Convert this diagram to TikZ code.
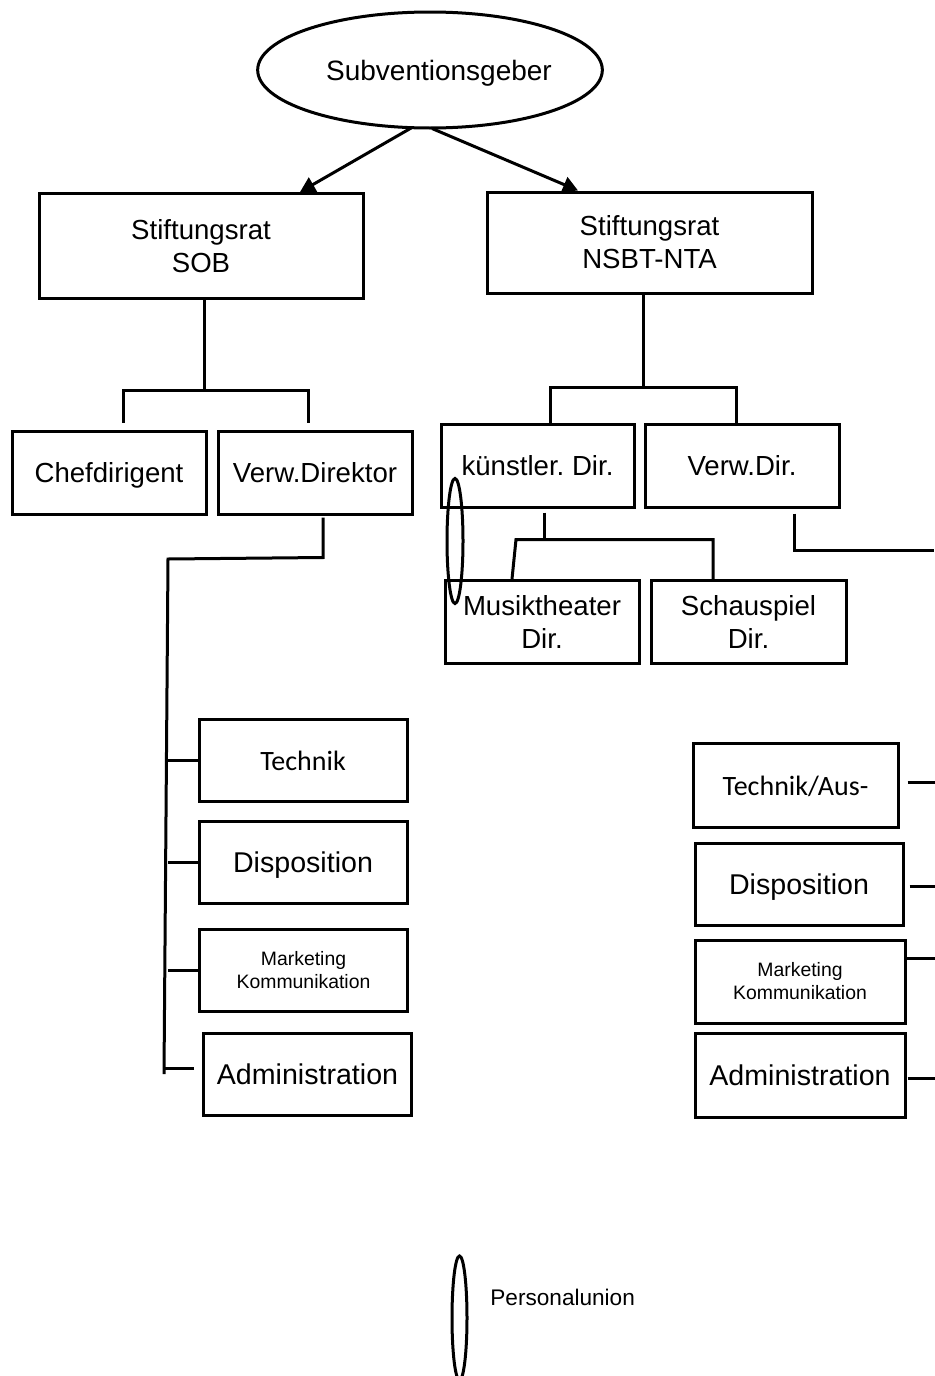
\documentclass[tikz,border=0pt]{standalone}
\usepackage{fontspec}
\setmainfont{Liberation Sans}
\newfontfamily\calibrifont{Carlito}
\usetikzlibrary{shapes.geometric}
\usetikzlibrary{arrows.meta}
\usetikzlibrary{calc}
\frenchspacing

\begin{document}
\begin{tikzpicture}[x=0.5pt,y=-0.5pt,
  box/.style={rectangle,draw=black,line width=1.5pt,inner sep=0pt,align=center,font=\fontsize{13.8}{16.5}\selectfont},
  oneline/.style={text height=10pt,text depth=0pt},
  dept/.style={box,minimum width=104pt,minimum height=41pt,font=\fontsize{14.3}{17}\selectfont},
  small/.style={font=\fontsize{9.7}{11.5}\selectfont},
  calib/.style={font=\calibrifont\fontsize{14}{17}\selectfont},
  link/.style={draw=black,line width=1.5pt},
  pu/.style={ellipse,draw=black,line width=1.5pt,inner sep=0pt},
  tip/.style={-{Triangle[length=7.5pt,width=8pt]}}]
\useasboundingbox (0,0) rectangle (934,1376);

% top
\node[pu,oneline,minimum width=171.5pt,minimum height=58pt,font=\fontsize{14}{17}\selectfont] (sub) at (430,70) {\hspace*{9pt}Subventionsgeber};
\node[box,minimum width=162pt,minimum height=52.5pt] (sob) at (201,246) {Stiftungsrat\\SOB};
\node[box,minimum width=162.5pt,minimum height=50.5pt] (nsbt) at (649.5,242.5) {Stiftungsrat\\NSBT-NTA};
\draw[link,tip] ($(sub.south)+(-18,-2)$) -- ($(sob.north)+(99,0)$);
\draw[link,tip] ($(sub.south)+(2,-1)$) -- ($(nsbt.north)+(-71.5,0)$);

% SOB
\node[box,oneline,minimum width=97pt,minimum height=41.5pt] (chef) at (109,472.5) {Chefdirigent};
\node[box,oneline,minimum width=97pt,minimum height=41.5pt] (verwdir) at (315,472.5) {Verw.Direktor};
\draw[link] ($(sob.south)+(3,0)$) -- ++(0,90) coordinate (sobfork);
\draw[link] ($(chef.north)+(14,-7)$) |- (sobfork) -| ($(verwdir.north)+(-7,-7)$);

% NSBT-NTA
\node[box,oneline,minimum width=96.5pt,minimum height=41.5pt] (kuenst) at (537.5,465.5) {künstler. Dir.};
\node[box,oneline,minimum width=97pt,minimum height=41.5pt] (verw) at (742,465.5) {Verw.Dir.};
\node[box,minimum width=97pt,minimum height=41.5pt] (musik) at (542,622) {Musiktheater\\Dir.};
\node[box,minimum width=97.5pt,minimum height=41.5pt] (schau) at (748.5,622) {Schauspiel\\Dir.};
\draw[link] ($(nsbt.south)+(-6.5,0)$) -- ++(0,93) coordinate (nsbtfork);
\draw[link] ($(kuenst.north)+(12.5,0)$) |- (nsbtfork) -| ($(verw.north)+(-6,0)$);
\draw[link] ($(kuenst.south)+(6.5,4)$) -- ++(0,27) coordinate (kfork);
\draw[link] ($(musik.north)+(-30,0)$) -- (kfork -| 516,0) -- (kfork) -| ($(schau.north)+(-35.5,0)$);
\draw[link] ($(verw.south)+(52,5)$) -- ++(0,37) -- ++(140,0);
\node[pu,minimum width=8pt,minimum height=62.5pt] (puA) at (455,541) {};

% left column
\node[dept,calib,oneline] (tech) at (303,760) {Technik};
\node[dept,oneline] (disp) at (303,862) {Disposition};
\node[dept,small] (mark) at (303.5,970) {Marketing\\Kommunikation};
\node[dept,oneline] (admin) at (307.5,1074) {Administration};
\draw[link] ($(verwdir.south)+(8,2)$) -- ++(0,40) -- (168,559) coordinate (trunktop) -- (164,1074) coordinate (trunkbot);
\foreach \d in {tech,disp,mark}
  \draw[link] (\d.west) -- (\d.west -| trunktop);
\draw[link] ($(admin.west)+(-8,-6)$) -- ++(-31,0);

% right column
\node[dept,calib,oneline,minimum width=102.5pt,minimum height=42pt] (techr) at (795.5,785) {Technik/Aus-};
\node[dept,oneline] (dispr) at (799,884) {Disposition};
\node[dept,small,minimum width=105pt,minimum height=41.5pt] (markr) at (800,981.5) {Marketing\\Kommunikation};
\node[dept,oneline,minimum width=105pt,minimum height=42pt] (adminr) at (800,1075) {Administration};
\draw[link] ($(techr.east)+(8,-3)$) -- ++(28,0);
\draw[link] ($(dispr.east)+(5,2)$) -- ++(30,0);
\draw[link] ($(markr.east)+(0,-23.5)$) -- ++(29,0);
\draw[link] ($(adminr.east)+(1,3)$) -- ++(33,0);

% legend
\node[pu,minimum width=7.5pt,minimum height=62pt] (puB) at (459.5,1318) {};
\node[anchor=west,inner sep=0pt,font=\fontsize{11.3}{13}\selectfont] (pulabel) at (490,1297) {Personalunion};
\end{tikzpicture}
\end{document}
